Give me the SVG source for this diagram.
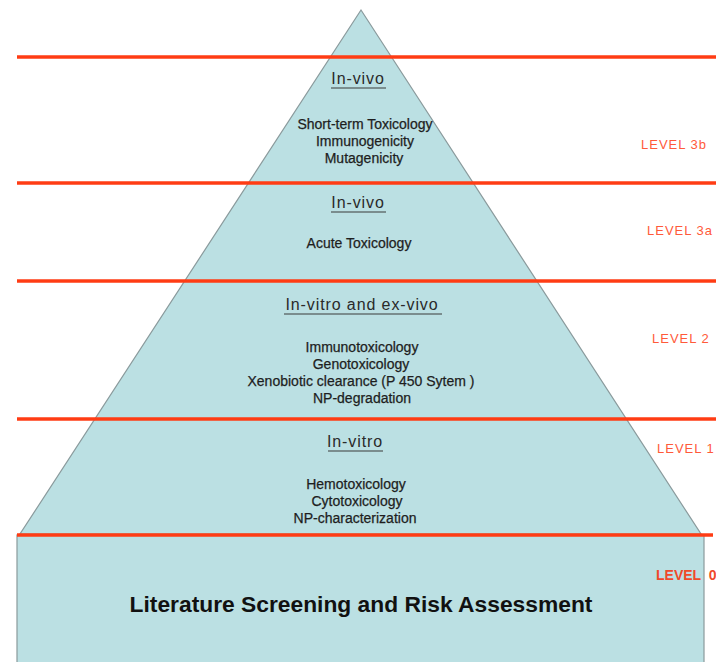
<svg xmlns="http://www.w3.org/2000/svg" width="716" height="662" viewBox="0 0 716 662">
  <style>
    .shape { fill: #bbe0e3; stroke: #8a9a9c; stroke-width: 1.2; }
    .band { stroke: #ff3c14; stroke-width: 3.6; fill: none; }
    .head { font-family: "Liberation Sans", Arial, sans-serif; font-size: 16px; letter-spacing: 0.9px; fill: #2a2a2a; text-anchor: middle; }
    .uline { stroke: #3a3a3a; stroke-width: 1.2; }
    .item { font-family: "Liberation Sans", Arial, sans-serif; font-size: 14px; fill: #1e1e1e; stroke: #1e1e1e; stroke-width: 0.25; text-anchor: middle; }
    .level { font-family: "Liberation Sans", Arial, sans-serif; font-size: 13px; letter-spacing: 1px; fill: #ff5a3a; }
    .level0 { font-family: "Liberation Sans", Arial, sans-serif; font-size: 14px; font-weight: bold; fill: #f04a2a; }
    .base { font-family: "Liberation Sans", Arial, sans-serif; font-size: 22.8px; font-weight: bold; fill: #111; text-anchor: middle; }
  </style>

  <rect width="716" height="662" fill="#ffffff"/>

  <!-- pyramid body and base block -->
  <g id="pyramid">
    <polygon class="shape" points="361,10 20,534 701,534"/>
  </g>
  <g id="base-block">
    <rect class="shape" x="17" y="535" width="687" height="140"/>
  </g>

  <!-- level separators -->
  <g id="separators">
    <line class="band" x1="17" y1="57" x2="716" y2="57"/>
    <line class="band" x1="17" y1="183" x2="716" y2="183"/>
    <line class="band" x1="17" y1="281" x2="716" y2="281"/>
    <line class="band" x1="17" y1="419" x2="716" y2="419"/>
    <line class="band" x1="17" y1="535" x2="713" y2="535"/>
  </g>

  <!-- level 3b -->
  <g id="level-3b">
    <text class="head" x="358" y="84">In-vivo</text>
    <line class="uline" x1="331" y1="88" x2="386" y2="88"/>
    <text class="item" x="365" y="129">Short-term Toxicology</text>
    <text class="item" x="365" y="146">Immunogenicity</text>
    <text class="item" x="364" y="163">Mutagenicity</text>
    <text class="level" x="641" y="149">LEVEL 3b</text>
  </g>

  <!-- level 3a -->
  <g id="level-3a">
    <text class="head" x="358" y="208">In-vivo</text>
    <line class="uline" x1="331" y1="212" x2="386" y2="212"/>
    <text class="item" x="359" y="248">Acute Toxicology</text>
    <text class="level" x="647" y="235">LEVEL 3a</text>
  </g>

  <!-- level 2 -->
  <g id="level-2">
    <text class="head" x="362" y="310">In-vitro and  ex-vivo</text>
    <line class="uline" x1="284" y1="314" x2="442" y2="314"/>
    <text class="item" x="362" y="352">Immunotoxicology</text>
    <text class="item" x="361" y="369">Genotoxicology</text>
    <text class="item" x="361" y="386">Xenobiotic clearance (P 450 Sytem )</text>
    <text class="item" x="362" y="403">NP-degradation</text>
    <text class="level" x="652" y="343">LEVEL 2</text>
  </g>

  <!-- level 1 -->
  <g id="level-1">
    <text class="head" x="355" y="447">In-vitro</text>
    <line class="uline" x1="328" y1="451" x2="383" y2="451"/>
    <text class="item" x="356" y="489">Hemotoxicology</text>
    <text class="item" x="357" y="506">Cytotoxicology</text>
    <text class="item" x="355" y="523">NP-characterization</text>
    <text class="level" x="657" y="453">LEVEL 1</text>
  </g>

  <!-- level 0 -->
  <g id="level-0">
    <text class="base" x="361" y="612">Literature Screening and Risk Assessment</text>
    <text class="level0" x="656" y="580">LEVEL <tspan dx="4">0</tspan></text>
  </g>
</svg>
